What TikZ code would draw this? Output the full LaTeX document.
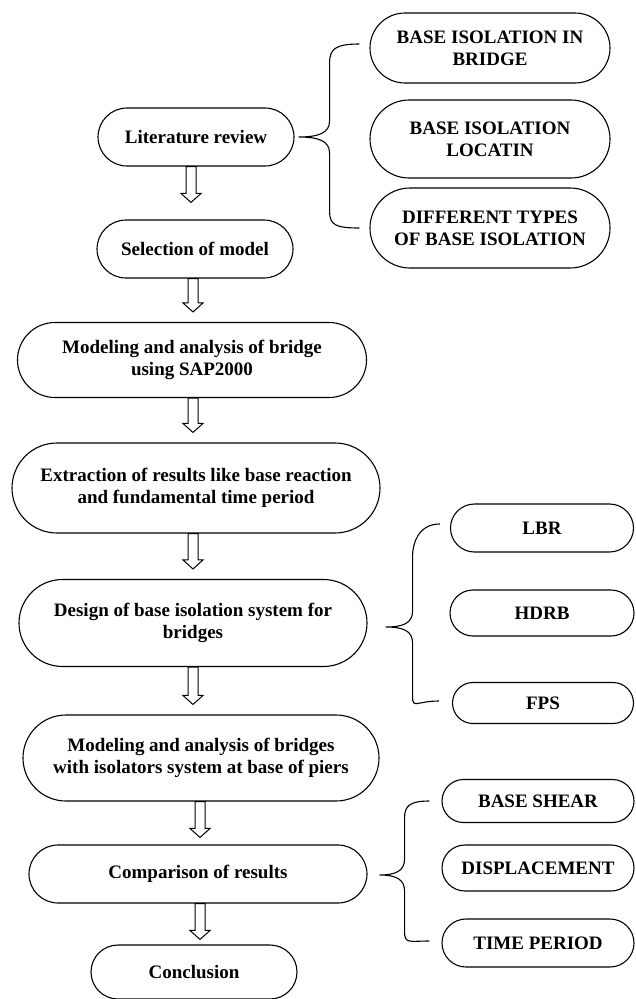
\documentclass[tikz,border=0pt]{standalone}
\usepackage{fontspec}
\setmainfont{Liberation Serif}
\usetikzlibrary{shapes.misc,calc}
\tikzset{
  pill/.style={draw, line width=1.1pt, rounded rectangle, align=center, inner sep=0pt,
    font=\bfseries\fontsize{19}{22}\selectfont},
  bracestyle/.style={draw, line width=1.1pt},
  harrowstyle/.style={draw, line width=1pt, fill=white, line join=miter}
}
\newcommand\harrow[2]{\draw[harrowstyle] let \p1=(#1), \p2=(#2) in
  (\x1-5pt,\y1) -- (\x1-5pt,\y2+9pt) -- (\x1-10pt,\y2+9pt) -- (\x1,\y2) --
  (\x1+10pt,\y2+9pt) -- (\x1+5pt,\y2+9pt) -- (\x1+5pt,\y1) -- cycle;}
\begin{document}
\begin{tikzpicture}[x=1pt,y=-1pt]
\useasboundingbox (0,0) rectangle (636,999);
% main column
\node[pill, minimum width=196pt, minimum height=58pt] (lit) at (196,137) {Literature review};
\node[pill, minimum width=196pt, minimum height=58pt] (sel) at (195,249) {Selection of model};
\node[pill, minimum width=349pt, minimum height=75pt] (mod) at (192,360) {Modeling and analysis of bridge\\using SAP2000};
\node[pill, minimum width=368pt, minimum height=90pt] (ext) at (196,488) {Extraction of results like base reaction\\and fundamental time period};
\node[pill, minimum width=348pt, minimum height=87pt] (des) at (193,623) {Design of base isolation system for\\bridges};
\node[pill, minimum width=356pt, minimum height=86pt] (modb) at (201,758) {Modeling and analysis of bridges\\with isolators system at base of piers};
\node[pill, minimum width=338pt, minimum height=58pt] (cmp) at (198,874) {Comparison of results};
\node[pill, minimum width=206pt, minimum height=54pt] (con) at (194,972) {Conclusion};
% right column
\node[pill, minimum width=240pt, minimum height=70pt] (b1) at (490,48) {BASE ISOLATION IN\\BRIDGE};
\node[pill, minimum width=240pt, minimum height=78pt] (b2) at (490,139) {BASE ISOLATION\\LOCATIN};
\node[pill, minimum width=240pt, minimum height=80pt] (b3) at (490,228) {DIFFERENT TYPES\\OF BASE ISOLATION};
\node[pill, minimum width=183pt, minimum height=48pt] (lbr) at (542,528) {LBR};
\node[pill, minimum width=184pt, minimum height=46pt] (hdrb) at (542,613) {HDRB};
\node[pill, minimum width=181pt, minimum height=41pt] (fps) at (543,703) {FPS};
\node[pill, minimum width=192pt, minimum height=43pt] (bs) at (538,801) {BASE SHEAR};
\node[pill, minimum width=192pt, minimum height=46pt] (disp) at (538,868) {DISPLACEMENT};
\node[pill, minimum width=192pt, minimum height=48pt] (tp) at (538,943) {TIME PERIOD};
% arrows
\harrow{[xshift=-5pt]lit.south}{[xshift=-5pt,yshift=17pt]sel.north}
\harrow{[xshift=-2pt]sel.south}{[xshift=-2pt,yshift=10pt]mod.north}
\harrow{[xshift=1pt]mod.south}{[xshift=1pt,yshift=10pt]ext.north}
\harrow{[xshift=-3pt]ext.south}{[xshift=-3pt,yshift=10pt]des.north}
\harrow{des.south}{[xshift=-8pt,yshift=10pt]modb.north}
\harrow{[xshift=-1pt]modb.south}{[xshift=2pt,yshift=7pt]cmp.north}
\harrow{[xshift=2pt]cmp.south}{[xshift=8pt,yshift=5pt]con.north}
% braces
\coordinate (t1) at ([xshift=4pt]lit.east);
\coordinate (e1a) at ([xshift=-10pt,yshift=4pt]b1.west);
\coordinate (e1b) at ([xshift=-10pt]b3.west);
\path[bracestyle] (e1a) .. controls ++(-24,0) and ++(0,-14) .. ($(t1)!0!(t1)+(31,-74)$)
  -- ($(t1)+(31,-16)$) .. controls ++(0,12) and ++(20,0) .. (t1)
  .. controls ++(20,0) and ++(0,-12) .. ($(t1)+(31,16)$)
  -- ($(t1)+(31,74)$) .. controls ++(0,14) and ++(-24,0) .. (e1b);
\coordinate (t2) at ([xshift=18pt,yshift=-4pt]des.east);
\coordinate (e2a) at ([xshift=-10pt,yshift=4pt]lbr.west);
\coordinate (e2b) at ([xshift=-13pt,yshift=2pt]fps.west);
\path[bracestyle] (e2a) .. controls ++(-22,0) and ++(0,-12) .. ($(t2)+(27,-71)$)
  -- ($(t2)+(27,-16)$) .. controls ++(0,12) and ++(18,0) .. (t2)
  .. controls ++(18,0) and ++(0,-12) .. ($(t2)+(27,16)$)
  -- ($(t2)+(27,70)$) .. controls ++(0,12) and ++(-22,0) .. (e2b);
\coordinate (t3) at ([xshift=12pt,yshift=-1pt]cmp.east);
\coordinate (e3a) at ([xshift=-12pt]bs.west);
\coordinate (e3b) at ([xshift=-12pt,yshift=2pt]tp.west);
\path[bracestyle] (e3a) .. controls ++(-20,0) and ++(0,-12) .. ($(t3)+(25,-57)$)
  -- ($(t3)+(25,-16)$) .. controls ++(0,12) and ++(16,0) .. (t3)
  .. controls ++(16,0) and ++(0,-12) .. ($(t3)+(25,16)$)
  -- ($(t3)+(25,57)$) .. controls ++(0,12) and ++(-20,0) .. (e3b);
\end{tikzpicture}
\end{document}
